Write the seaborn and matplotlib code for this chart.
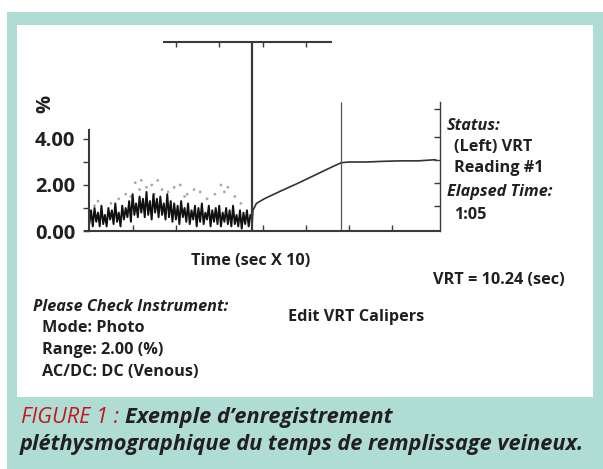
import numpy as np
import matplotlib
matplotlib.use('Agg')
import matplotlib.pyplot as plt
import seaborn as sns
from matplotlib.patches import Rectangle

sns.set_theme(style='white')
plt.rcParams['font.family'] = ['Open Sans', 'DejaVu Sans']

# raw photo trace before the tourniquet release (one value every 0.2 s)
trace_vals = [0.3, 0.9, 0.2, 1.0, 0.4, 0.8, 0.2, 1.1, 0.3, 0.7,
              0.2, 1.0, 0.5, 0.9, 0.3, 1.2, 0.4, 0.8, 0.2, 1.1,
              0.5, 1.0, 0.6, 1.3, 0.4, 1.6, 0.7, 1.2, 0.6, 1.5,
              0.8, 1.4, 0.6, 1.7, 0.7, 1.3, 0.5, 1.6, 0.8, 1.4,
              0.6, 1.5, 0.7, 1.2, 0.5, 1.6, 0.6, 1.3, 0.4, 1.2,
              0.5, 1.1, 0.3, 1.3, 0.6, 1.0, 0.4, 1.2, 0.3, 0.9,
              0.5, 1.1, 0.2, 1.0, 0.4, 1.2, 0.3, 0.8, 0.5, 1.1,
              0.2, 0.9, 0.4, 1.0, 0.3, 1.1, 0.2, 0.8, 0.4, 1.0,
              0.3, 0.9, 0.2, 1.1, 0.3, 0.7, 0.2, 0.9, 0.1, 0.8,
              0.3, 0.9, 0.2, 0.7]
trace_t = np.arange(len(trace_vals)) * 0.2

# stray samples above the trace
stray_t = [0.6, 1.0, 2.5, 3.4, 4.2, 4.8, 5.3, 5.8, 6.0, 6.6, 7.2, 7.5, 7.9,
           8.4, 9.1, 9.8, 10.5, 11.0, 11.3, 12.1, 12.8, 13.6, 14.5, 15.2,
           15.6, 16.0, 16.8, 17.5]
stray_y = [1.1, 1.3, 1.2, 1.4, 1.6, 1.5, 2.1, 1.8, 2.2, 1.9, 2.0, 1.6, 2.2,
           1.8, 1.7, 1.9, 2.0, 1.5, 1.6, 1.8, 1.7, 1.4, 1.6, 2.0,
           1.7, 1.9, 1.5, 1.2]

# venous refill curve after release
refill_t = [18.8, 18.9, 19.3, 20.2, 22.0, 24.0, 26.0, 28.0, 29.1,
            30.0, 32.0, 34.0, 36.0, 38.0, 40.0]
refill_y = [0.3, 0.9, 1.2, 1.4, 1.72, 2.06, 2.42, 2.78, 2.97,
            3.0, 3.0, 3.03, 3.05, 3.05, 3.1]

# calipers (sec)
caliper_start = 18.8
caliper_end = 29.1
bar_from, bar_to, bar_level = 8.5, 28.0, 8.2
bar_ticks = [10, 15, 20, 25]

y_ticks = [0, 1, 2, 3, 4]
y_labels = ['0.00', '', '2.00', '', '4.00']
x_ticks = [5, 10, 20, 25, 30, 35]
right_ticks = [1.1, 2.1, 3.1, 4.1, 5.3]

W, H = 603, 469
ink = '#231f20'
line_col = '#3a3a3a'
teal = '#b0ddd3'


def fx(x):
    return x / W


def fy(y):
    return 1 - y / H


fig = plt.figure(figsize=(W / 100, H / 100), dpi=100)
fig.patch.set_facecolor('white')
fig.patches.append(Rectangle((fx(7), 0), 1 - fx(7), fy(12), transform=fig.transFigure,
                             facecolor=teal, edgecolor='none', zorder=-2))
fig.patches.append(Rectangle((fx(17), fy(397)), fx(593 - 17), (397 - 25) / H,
                             transform=fig.transFigure, facecolor='white',
                             edgecolor='none', zorder=-1))

# axes: x from -0.5 to 40.5 s over px 85..440, y 0..8.5 over px 231..35.5
ax = fig.add_axes([fx(85), fy(231), fx(355), 195.5 / H])
ax.set_facecolor('none')
ax.set_xlim(-0.5, 40.5)
ax.set_ylim(0, 8.5)

sns.scatterplot(x=stray_t, y=stray_y, ax=ax, color='#a8a8a8', s=4,
                edgecolor='none')
sns.lineplot(x=trace_t, y=trace_vals, ax=ax, color='#111111', lw=1.4,
             sort=False, estimator=None)
sns.lineplot(x=refill_t, y=refill_y, ax=ax, color='#333333', lw=1.2,
             sort=False, estimator=None)

ax.vlines(caliper_start, 0, bar_level, color=line_col, lw=1.6)
ax.vlines(caliper_end, 0, 5.6, color='#555555', lw=0.9)
ax.hlines(bar_level, bar_from, bar_to, color=line_col, lw=1.5)
ax.vlines(bar_ticks, bar_level - 0.2, bar_level, color=line_col, lw=1.0)

ax.spines['top'].set_visible(False)
for side in ['left', 'bottom', 'right']:
    ax.spines[side].set_visible(True)
    ax.spines[side].set_color(line_col)
    ax.spines[side].set_linewidth(1.5)
ax.spines['left'].set_bounds(0, 4.4)
ax.spines['right'].set_bounds(0, 5.6)
ax.spines['right'].set_linewidth(1.0)
ax.spines['left'].set_position(('data', 0))

ax.set_yticks(y_ticks)
ax.set_yticklabels(y_labels)
ax.tick_params(axis='y', direction='out', length=4, width=1, color=line_col,
               pad=6, labelsize=14.5, labelcolor=ink, left=True)
for t in ax.get_yticklabels():
    t.set_fontweight('bold')
ax.set_xticks(x_ticks)
ax.set_xticklabels([])
ax.tick_params(axis='x', direction='in', length=4, width=1, color=line_col,
               bottom=True)

ax2 = ax.twinx()
ax2.set_ylim(0, 8.5)
for side in ax2.spines:
    ax2.spines[side].set_visible(False)
ax2.set_yticks(right_ticks)
ax2.set_yticklabels([])
ax2.tick_params(axis='y', direction='in', length=4, width=1, color=line_col,
                right=True)
ax2.grid(False)
ax.grid(False)

fig.text(fx(45), fy(104), '%', rotation=90, fontsize=14.5, fontweight='bold',
         color=ink, ha='center', va='center')

sb = dict(color=ink, fontweight='bold', fontsize=11.7, va='center')
fig.text(fx(251), fy(261), 'Time (sec X 10)', ha='center', **sb)
fig.text(fx(433), fy(280), 'VRT = 10.24 (sec)', ha='left', **sb)
fig.text(fx(288), fy(317), 'Edit VRT Calipers', ha='left', **sb)

fig.text(fx(33), fy(307), 'Please Check Instrument:', ha='left', style='italic', **sb)
fig.text(fx(42), fy(328), 'Mode: Photo', ha='left', **sb)
fig.text(fx(42), fy(350), 'Range: 2.00 (%)', ha='left', **sb)
fig.text(fx(42), fy(372), 'AC/DC: DC (Venous)', ha='left', **sb)

fig.text(fx(447), fy(126), 'Status:', ha='left', style='italic', **sb)
fig.text(fx(454), fy(147), '(Left) VRT', ha='left', **sb)
fig.text(fx(454), fy(168), 'Reading #1', ha='left', **sb)
fig.text(fx(447), fy(192), 'Elapsed Time:', ha='left', style='italic', **sb)
fig.text(fx(454), fy(215), '1:05', ha='left', **sb)

cap = dict(fontsize=15.7, style='italic', fontweight='bold', ha='left',
           va='baseline')
t1 = fig.text(fx(21), fy(423), 'FIGURE 1 : ', color='#c4161c',
              fontsize=15.7, style='italic', fontweight='normal', ha='left',
              va='baseline')
fig.canvas.draw()
bb = t1.get_window_extent()
fig.text(bb.x1 / W, fy(423), 'Exemple d\u2019enregistrement', color=ink, **cap)
fig.text(fx(20), fy(450), 'pl\u00e9thysmographique du temps de remplissage veineux.',
         color=ink, **cap)

fig.savefig('out.png', dpi=100)
